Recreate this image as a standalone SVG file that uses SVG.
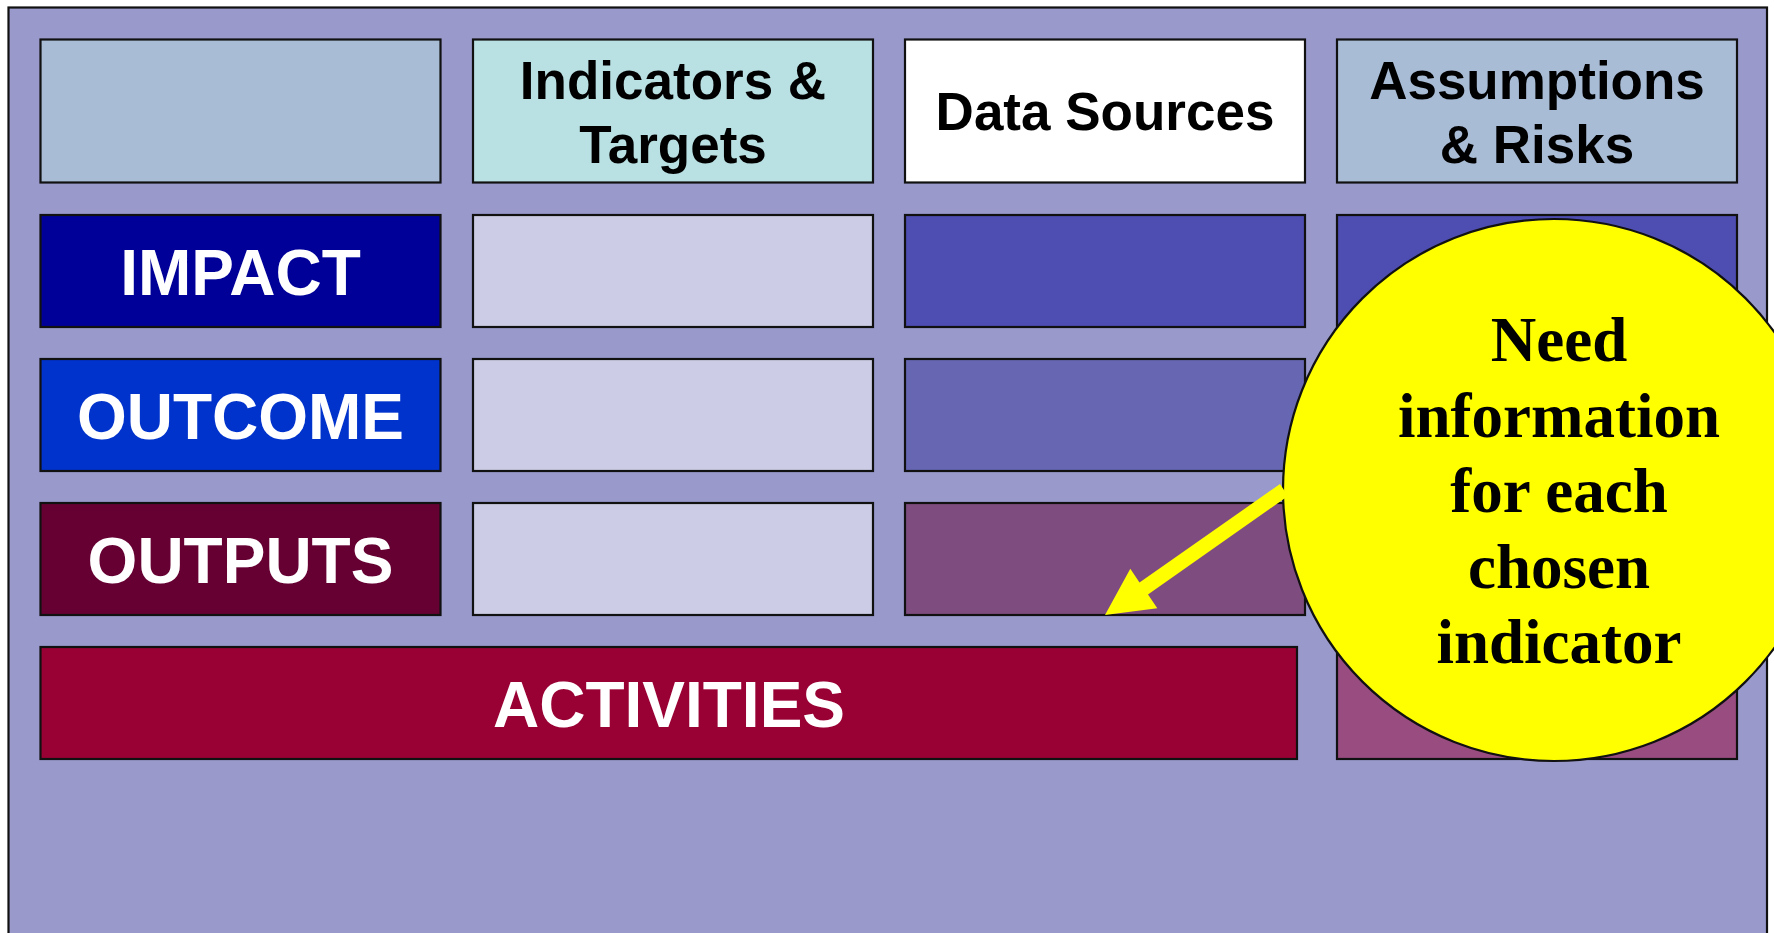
<svg xmlns="http://www.w3.org/2000/svg" width="1774" height="933" viewBox="0 0 1774 933">
<defs>
<style>
.box{stroke:#111;stroke-width:2.2}
.hdr{font-family:"Liberation Sans",Arial,sans-serif;font-weight:bold;font-size:53px;fill:#000;text-anchor:middle}
.lbl{font-family:"Liberation Sans",Arial,sans-serif;font-weight:bold;font-size:64px;fill:#fff;text-anchor:middle}
.bub{font-family:"Liberation Serif","Times New Roman",serif;font-weight:bold;font-size:63px;fill:#000;text-anchor:middle}
</style>
</defs>
<rect x="0" y="0" width="1774" height="933" fill="#fff"/>
<rect id="frame" x="8.5" y="7.5" width="1758.5" height="1000" fill="#9999CC" stroke="#111" stroke-width="2.2"/>

<g id="hdr-blank"><rect class="box" x="40.5" y="39.5" width="400" height="143" fill="#A9BCD6"/></g>
<g id="hdr-indicators"><rect class="box" x="473" y="39.5" width="400" height="143" fill="#B9E0E3"/>
<text class="hdr" x="673" y="99">Indicators &amp;</text><text class="hdr" x="673" y="163">Targets</text></g>
<g id="hdr-sources"><rect class="box" x="905" y="39.5" width="400" height="143" fill="#FFFFFF"/>
<text class="hdr" x="1105" y="130">Data Sources</text></g>
<g id="hdr-assumptions"><rect class="box" x="1337" y="39.5" width="400" height="143" fill="#A9BCD6"/>
<text class="hdr" x="1537" y="99">Assumptions</text><text class="hdr" x="1537" y="163">&amp; Risks</text></g>

<g id="impact"><rect class="box" x="40.5" y="215" width="400" height="112" fill="#000099"/>
<text class="lbl" x="240.5" y="295">IMPACT</text></g>
<g id="impact-ind"><rect class="box" x="473" y="215" width="400" height="112" fill="#CCCCE6"/></g>
<g id="impact-src"><rect class="box" x="905" y="215" width="400" height="112" fill="#4D4DB2"/></g>
<g id="impact-ass"><rect class="box" x="1337" y="215" width="400" height="112" fill="#4D4DB2"/></g>

<g id="outcome"><rect class="box" x="40.5" y="359" width="400" height="112" fill="#0033CC"/>
<text class="lbl" x="240.5" y="439">OUTCOME</text></g>
<g id="outcome-ind"><rect class="box" x="473" y="359" width="400" height="112" fill="#CCCCE6"/></g>
<g id="outcome-src"><rect class="box" x="905" y="359" width="400" height="112" fill="#6666B2"/></g>

<g id="outputs"><rect class="box" x="40.5" y="503" width="400" height="112" fill="#660033"/>
<text class="lbl" x="240.5" y="583">OUTPUTS</text></g>
<g id="outputs-ind"><rect class="box" x="473" y="503" width="400" height="112" fill="#CCCCE6"/></g>
<g id="outputs-src"><rect class="box" x="905" y="503" width="400" height="112" fill="#7F4C7F"/></g>

<g id="activities"><rect class="box" x="40.5" y="647" width="1256.5" height="112" fill="#990033"/>
<text class="lbl" x="669" y="727">ACTIVITIES</text></g>
<g id="activities-ass"><rect class="box" x="1337" y="647" width="400" height="112" fill="#994C80"/></g>

<g id="callout"><circle cx="1554" cy="490" r="271" fill="#FFFF00" stroke="#111" stroke-width="2.2"/>
<text class="bub" x="1559" y="361">Need</text>
<text class="bub" x="1559" y="437">information</text>
<text class="bub" x="1559" y="512">for each</text>
<text class="bub" x="1559" y="588">chosen</text>
<text class="bub" x="1559" y="663">indicator</text></g>

<g id="connectors">
<polygon fill="#FFFF00" points="1280,484 1288,496 1148,594.5 1157.3,608.3 1105,615 1130.3,568.7 1139.5,582.5"/>
</g>
</svg>
